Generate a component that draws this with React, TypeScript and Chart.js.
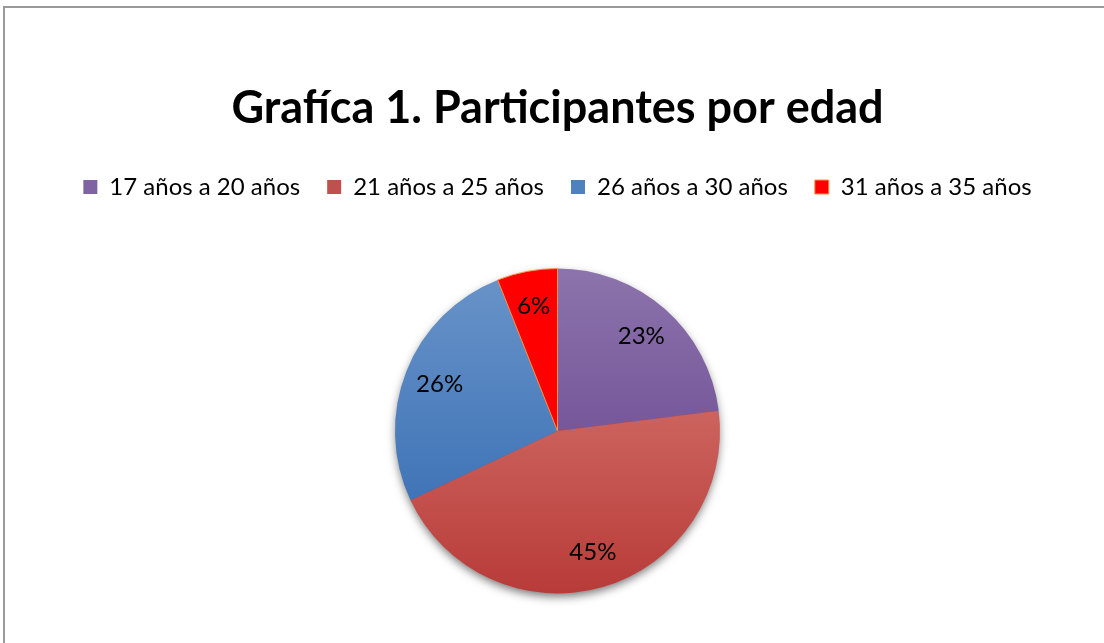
import React, { useEffect, useRef } from "react";
import { Chart, registerables } from "chart.js";

Chart.register(...registerables);

const TITLE = "Grafíca 1. Participantes por edad";
const categories = ["17 años a 20 años", "21 años a 25 años", "26 años a 30 años", "31 años a 35 años"];
const values = [23, 45, 26, 6];
const gradientStops: [number, string][][] = [
  [[0, "#8C74AC"], [0.5, "#76579A"], [1, "#603F88"]],
  [[0, "#D98680"], [0.43, "#CD645F"], [1, "#B83B38"]],
  [[0, "#6A94C9"], [0.72, "#3F74B7"], [1, "#3A6DAE"]],
  [[0, "#FF0000"], [1, "#FF0000"]],
];
const legendColors = ["#8064A2", "#C0504D", "#4F81BD", "#FF0000"];
const borderColors = ["#8064A2", "#C0504D", "#4F81BD", "#F79646"];

const FONT = "Lato, 'Open Sans', sans-serif";

const legendSpacePlugin = {
  id: "legendSpace",
  beforeInit(chart: any) {
    const legend = chart.legend;
    if (!legend) return;
    const orig = legend.fit;
    legend.fit = function () {
      orig.call(this);
      this.height = 120;
    };
  },
};

const shadowPlugin = {
  id: "pieShadow",
  beforeDatasetsDraw(chart: any) {
    const meta = chart.getDatasetMeta(0);
    const arc = meta.data[0];
    if (!arc) return;
    const { x, y, outerRadius } = arc.getProps(["x", "y", "outerRadius"], true);
    const ctx = chart.ctx;
    ctx.save();
    ctx.shadowColor = "rgba(0,0,0,0.55)";
    ctx.shadowBlur = 10;
    ctx.shadowOffsetY = 4;
    ctx.beginPath();
    ctx.arc(x, y, outerRadius - 1, 0, Math.PI * 2);
    ctx.fillStyle = "#B83B38";
    ctx.fill();
    ctx.restore();
  },
};

const labelPlugin = {
  id: "pctLabels",
  afterDatasetsDraw(chart: any) {
    const ctx = chart.ctx;
    const meta = chart.getDatasetMeta(0);
    const data = chart.data.datasets[0].data as number[];
    const total = data.reduce((a, b) => a + b, 0);
    ctx.save();
    ctx.font = `24px ${FONT}`;
    ctx.fillStyle = "#000";
    ctx.textAlign = "center";
    ctx.textBaseline = "middle";
    meta.data.forEach((arc: any, i: number) => {
      const p = arc.getProps(["x", "y", "startAngle", "endAngle", "outerRadius"], true);
      const mid = (p.startAngle + p.endAngle) / 2;
      const r = p.outerRadius * 0.78;
      const tx = p.x + Math.cos(mid) * r;
      const ty = p.y + Math.sin(mid) * r;
      ctx.fillText(`${Math.round((data[i] / total) * 100)}%`, tx, ty);
    });
    ctx.restore();
  },
};

export default function App() {
  const ref = useRef<HTMLCanvasElement | null>(null);
  useEffect(() => {
    if (!ref.current) return;
    const chart = new Chart(ref.current, {
      type: "pie",
      data: {
        labels: categories,
        datasets: [
          {
            data: values,
            backgroundColor: (c: any) => {
              const i = c.dataIndex;
              const area = c.chart.chartArea;
              if (!area) return legendColors[i];
              const g = c.chart.ctx.createLinearGradient(0, area.top, 0, area.bottom);
              gradientStops[i].forEach(([o, col]) => g.addColorStop(o, col));
              return g;
            },
            borderColor: borderColors,
            borderWidth: [0, 0, 0, 1],
          },
        ],
      },
      options: {
        responsive: false,
        animation: false,
        rotation: 0,
        layout: { padding: { top: 81, left: 11, right: 0, bottom: 49 } },
        plugins: {
          title: {
            display: true,
            text: TITLE,
            color: "#000",
            font: { family: FONT, size: 45, weight: "bold" },
            padding: { top: 0, bottom: 13 },
          },
          legend: {
            display: true,
            position: "top",
            labels: {
              color: "#000",
              font: { family: FONT, size: 24 },
              boxWidth: 14,
              boxHeight: 14,
              padding: 27,
              generateLabels: () =>
                categories.map((t, i) => ({
                  text: t,
                  fillStyle: legendColors[i],
                  strokeStyle: i === 3 ? "#F79646" : legendColors[i],
                  lineWidth: i === 3 ? 1 : 0,
                  hidden: false,
                  index: i,
                  datasetIndex: 0,
                })),
            },
          },
          tooltip: { enabled: false },
        },
      },
      plugins: [legendSpacePlugin, shadowPlugin, labelPlugin],
    });
    return () => chart.destroy();
  }, []);

  return (
    <div style={{ position: "fixed", left: 0, top: 0, width: 1104, height: 643, background: "#fff", overflow: "hidden" }}>
      <div style={{ position: "absolute", left: 3, top: 6, width: 1101, height: 2, background: "#9a9a9a" }} />
      <div style={{ position: "absolute", left: 3, top: 6, width: 2, height: 637, background: "#9a9a9a" }} />
      <canvas ref={ref} width={1104} height={643} style={{ position: "absolute", left: 0, top: 0 }} />
    </div>
  );
}
